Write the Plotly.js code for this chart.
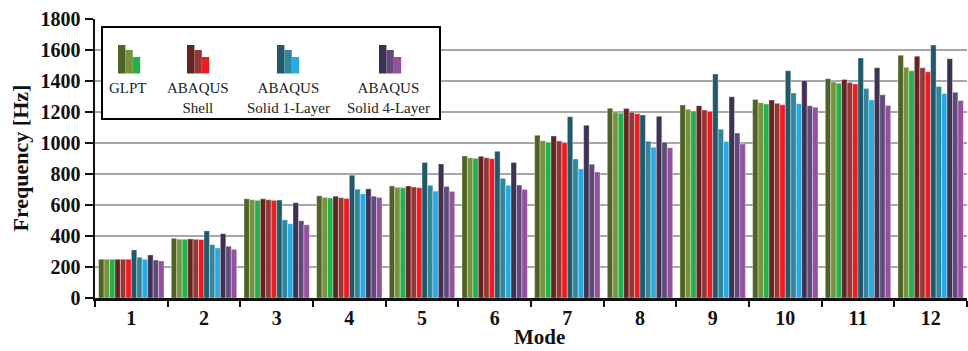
<!DOCTYPE html>
<html>
<head>
<meta charset="utf-8">
<script src="https://cdn.plot.ly/plotly-3.0.1.min.js"></script>
<style>html,body{margin:0;padding:0;background:#fff;}#chart{width:968px;height:351px;}</style>
</head>
<body>
<div id="chart"></div>
<script>
const modes = ['1','2','3','4','5','6','7','8','9','10','11','12'];

// GLPT
const glpt_a = [250, 385, 640, 659, 723, 916, 1050, 1224, 1245, 1281, 1415, 1566];
const glpt_b = [250, 379, 634, 649, 714, 905, 1015, 1200, 1217, 1260, 1394, 1489];
const glpt_c = [250, 379, 630, 645, 712, 901, 1005, 1192, 1206, 1251, 1385, 1466];
// ABAQUS Shell
const shell_a = [250, 381, 640, 657, 723, 914, 1045, 1222, 1241, 1277, 1410, 1560];
const shell_b = [250, 379, 634, 647, 716, 905, 1013, 1198, 1213, 1256, 1391, 1485];
const shell_c = [250, 377, 630, 642, 712, 899, 1002, 1189, 1204, 1247, 1381, 1459];
// ABAQUS Solid 1-Layer
const solid1_a = [310, 433, 632, 792, 875, 946, 1170, 1181, 1445, 1466, 1549, 1632];
const solid1_b = [263, 344, 504, 702, 727, 772, 897, 1011, 1089, 1322, 1351, 1364];
const solid1_c = [250, 323, 479, 672, 690, 727, 832, 972, 1009, 1254, 1279, 1319];
// ABAQUS Solid 4-Layer
const solid4_a = [278, 415, 615, 704, 865, 875, 1114, 1172, 1298, 1402, 1485, 1544];
const solid4_b = [245, 334, 498, 657, 720, 729, 863, 1005, 1064, 1241, 1311, 1327];
const solid4_c = [239, 314, 472, 649, 688, 701, 813, 970, 993, 1230, 1242, 1274];

const legendNames = ['GLPT', 'ABAQUS<br>Shell', 'ABAQUS<br>Solid 1-Layer', 'ABAQUS<br>Solid 4-Layer'];

const series = [glpt_a, glpt_b, glpt_c, shell_a, shell_b, shell_c,
                solid1_a, solid1_b, solid1_c, solid4_a, solid4_b, solid4_c];
const colors = ['#4F6228', '#77933C', '#22B14C',
                '#632523', '#953735', '#ED1C24',
                '#215968', '#31859C', '#29ABE2',
                '#3F3151', '#604A7B', '#9650A0'];

const traces = series.map((s, i) => ({
  type: 'bar', x: modes, y: s,
  marker: {color: colors[i], line: {color: 'rgba(255,255,255,0.7)', width: 0.5}},
  showlegend: false, hoverinfo: 'y'
}));

// pixel -> paper helpers (plot area: l=95, r=1, t=19, b=53)
const L = 95, R = 1, T = 19, B = 53, W = 968, H = 351;
const pw = W - L - R, ph = H - T - B;
const px = x => (x - L) / pw;
const py = y => (H - B - y) / ph;

const FONT = 'Liberation Serif, Times New Roman, serif';
const shapes = [];
const annotations = [];
// legend box
shapes.push({type: 'rect', xref: 'paper', yref: 'paper', x0: px(102), x1: px(440), y0: py(119), y1: py(27),
  line: {color: '#000', width: 2}, fillcolor: '#fff', layer: 'above'});
const iconX = [118, 187, 277, 379];
const textX = [128, 198, 288, 388];
const tops = [45, 50, 57];
for (let g = 0; g < 4; g++) {
  for (let k = 0; k < 3; k++) {
    shapes.push({type: 'rect', xref: 'paper', yref: 'paper',
      x0: px(iconX[g] + k * 7.4), x1: px(iconX[g] + (k + 1) * 7.4),
      y0: py(73.5), y1: py(tops[k]),
      line: {width: 0}, fillcolor: colors[g * 3 + k], layer: 'above'});
  }
  annotations.push({xref: 'paper', yref: 'paper', x: px(textX[g]), y: py(78),
    text: legendNames[g], showarrow: false, xanchor: 'center', yanchor: 'top',
    align: 'center', font: {family: FONT, size: 15, color: '#222'}});
}
annotations.push({xref: 'paper', yref: 'paper', x: 0.5, y: 0, xshift: 8, yshift: -39, xanchor: 'center', yanchor: 'middle',
  text: 'Mode', showarrow: false, font: {family: FONT, size: 21, color: '#111', weight: 'bold'}});
annotations.push({xref: 'paper', yref: 'paper', x: 0, y: 0.5, xshift: -75, xanchor: 'center', yanchor: 'middle',
  textangle: -90, text: 'Frequency [Hz]', showarrow: false,
  font: {family: FONT, size: 22, color: '#111', weight: 'bold'}});

const layout = {
  width: W, height: H,
  margin: {l: L, r: R, t: T, b: B},
  paper_bgcolor: '#fff', plot_bgcolor: '#fff',
  barmode: 'group', bargap: 0.1, bargroupgap: 0,
  xaxis: {type: 'category', showline: true, linecolor: '#111', linewidth: 2.5,
    ticks: 'outside', tickson: 'boundaries', ticklen: 6, tickwidth: 2, tickcolor: '#111',
    showgrid: false, zeroline: false,
    tickfont: {family: FONT, size: 20, color: '#111', weight: 'bold'}},
  yaxis: {range: [0, 1800], dtick: 200, showline: true, linecolor: '#111', linewidth: 2.5,
    ticks: 'outside', ticklen: 8, tickwidth: 2, tickcolor: '#111',
    showgrid: true, gridcolor: '#A6A6A6', gridwidth: 1.5, zeroline: false,
    tickfont: {family: FONT, size: 20, color: '#111', weight: 'bold'}},
  shapes: shapes,
  annotations: annotations
};

Plotly.newPlot('chart', traces, layout, {displayModeBar: false, staticPlot: true});
</script>
</body>
</html>
